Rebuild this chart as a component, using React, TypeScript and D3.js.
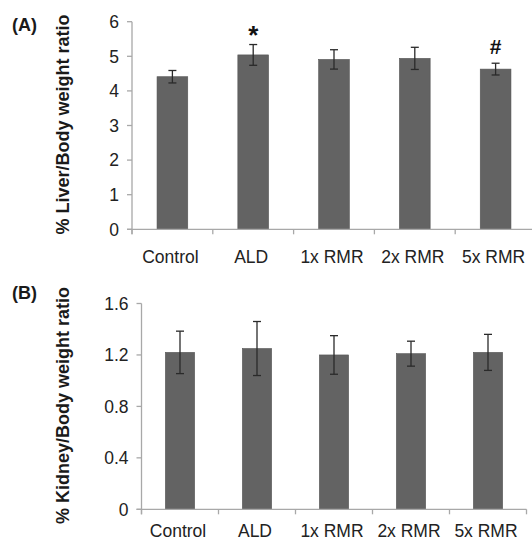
import React, { useEffect, useRef } from "react";
import * as d3 from "d3";

const groups = ["Control", "ALD", "1x RMR", "2x RMR", "5x RMR"];

const liverMean = [4.41, 5.04, 4.91, 4.94, 4.63];
const liverErr = [0.18, 0.3, 0.28, 0.32, 0.17];
const liverTicks = [0, 1, 2, 3, 4, 5, 6];
const liverMarks = ["", "*", "", "", "#"];

const kidneyMean = [1.22, 1.25, 1.2, 1.21, 1.22];
const kidneyErr = [0.165, 0.21, 0.15, 0.097, 0.14];
const kidneyTicks = [0, 0.4, 0.8, 1.2, 1.6];

const App = () => {
  const ref = useRef<HTMLDivElement>(null);

  useEffect(() => {
    const width = 532;
    const height = 543;
    const font = "'Liberation Sans', Arial, sans-serif";

    const svg = d3.create("svg")
      .attr("width", width)
      .attr("height", height)
      .style("position", "absolute")
      .style("left", 0)
      .style("top", 0)
      .style("background", "#fff")
      .style("font-family", font);

    const panels = [
      {
        tag: "(A)", tagY: 31, title: "% Liver/Body weight ratio",
        mean: liverMean, err: liverErr, ticks: liverTicks, fmt: d3.format("d"),
        marks: liverMarks, xr: [132, 536], yd: [0, 6], yr: [229.3, 21.7], labelY: 263,
      },
      {
        tag: "(B)", tagY: 299, title: "% Kidney/Body weight ratio",
        mean: kidneyMean, err: kidneyErr, ticks: kidneyTicks, fmt: (d: number) => d === 0 ? "0" : d3.format(".1f")(d),
        marks: ["", "", "", "", ""], xr: [141.5, 526.5], yd: [0, 1.6], yr: [509.3, 303.5], labelY: 537,
      },
    ];

    panels.forEach(p => {
      const x = d3.scaleBand<string>()
        .domain(groups)
        .range(p.xr as [number, number])
        .paddingInner(0.62)
        .paddingOuter(0.31);
      const y = d3.scaleLinear().domain(p.yd).range(p.yr);
      const step = x.step();
      const x0 = p.xr[0];
      const base = y(0);

      const g = svg.append("g");

      // bars
      g.selectAll("rect")
        .data(groups)
        .join("rect")
        .attr("x", d => x(d)!)
        .attr("width", x.bandwidth())
        .attr("y", (d, i) => y(p.mean[i]))
        .attr("height", (d, i) => base - y(p.mean[i]))
        .attr("fill", "#636363")
        .attr("stroke", "#555")
        .attr("stroke-width", 0.6);

      // axes
      g.append("line")
        .attr("x1", x0).attr("x2", x0)
        .attr("y1", y(p.yd[1])).attr("y2", base + 5)
        .attr("stroke", "#a8a8a8").attr("stroke-width", 1.3);
      g.append("line")
        .attr("x1", x0 - 5).attr("x2", p.xr[1])
        .attr("y1", base).attr("y2", base)
        .attr("stroke", "#a8a8a8").attr("stroke-width", 1.3);

      g.selectAll(".xtick")
        .data(d3.range(groups.length + 1))
        .join("line")
        .attr("x1", i => x0 + i * step).attr("x2", i => x0 + i * step)
        .attr("y1", base).attr("y2", base + 5)
        .attr("stroke", "#a8a8a8").attr("stroke-width", 1.3);

      g.selectAll(".ytick")
        .data(p.ticks)
        .join("line")
        .attr("x1", x0 - 5).attr("x2", x0)
        .attr("y1", d => y(d)).attr("y2", d => y(d))
        .attr("stroke", "#a8a8a8").attr("stroke-width", 1.3);

      g.selectAll(".ylab")
        .data(p.ticks)
        .join("text")
        .attr("x", x0 - 13)
        .attr("y", d => y(d))
        .attr("dy", "0.36em")
        .attr("text-anchor", "end")
        .attr("font-size", 17.5)
        .attr("fill", "#222")
        .text(d => p.fmt(d));

      g.selectAll(".xlab")
        .data(groups)
        .join("text")
        .attr("x", d => x(d)! + x.bandwidth() / 2 - 2)
        .attr("y", p.labelY)
        .attr("text-anchor", "middle")
        .attr("font-size", 17.5)
        .attr("fill", "#222")
        .text(d => d);

      // error bars
      const eb = g.selectAll(".err")
        .data(groups)
        .join("g")
        .attr("stroke", "#2a2a2a")
        .attr("stroke-width", 1.3);
      eb.append("line")
        .attr("x1", d => x(d)! + x.bandwidth() / 2).attr("x2", d => x(d)! + x.bandwidth() / 2)
        .attr("y1", (d, i) => y(p.mean[i] + p.err[i]))
        .attr("y2", (d, i) => y(p.mean[i] - p.err[i]));
      [1, -1].forEach(s => {
        eb.append("line")
          .attr("x1", d => x(d)! + x.bandwidth() / 2 - 4).attr("x2", d => x(d)! + x.bandwidth() / 2 + 4)
          .attr("y1", (d, i) => y(p.mean[i] + s * p.err[i]))
          .attr("y2", (d, i) => y(p.mean[i] + s * p.err[i]));
      });

      // significance marks
      g.selectAll(".mark")
        .data(groups)
        .join("text")
        .attr("x", d => x(d)! + x.bandwidth() / 2)
        .attr("y", (d, i) => p.marks[i] === "*" ? y(p.mean[i] + p.err[i]) - 1 : y(p.mean[i] + p.err[i]) - 9)
        .attr("text-anchor", "middle")
        .attr("font-weight", "bold")
        .attr("font-size", (d, i) => p.marks[i] === "*" ? 26 : 21)
        .attr("fill", "#111")
        .text((d, i) => p.marks[i]);

      // y title
      const yMid = (p.yr[0] + p.yr[1]) / 2 - 1;
      g.append("text")
        .attr("transform", `translate(69,${yMid}) rotate(-90)`)
        .attr("text-anchor", "middle")
        .attr("font-weight", "bold")
        .attr("font-size", 18)
        .attr("fill", "#1a1a1a")
        .text(p.title);

      g.append("text")
        .attr("x", 12)
        .attr("y", p.tagY)
        .attr("font-weight", "bold")
        .attr("font-size", 18)
        .attr("fill", "#1a1a1a")
        .text(p.tag);
    });

    ref.current!.innerHTML = "";
    ref.current!.appendChild(svg.node()!);
  }, []);

  return <div ref={ref} />;
};

export default App;
